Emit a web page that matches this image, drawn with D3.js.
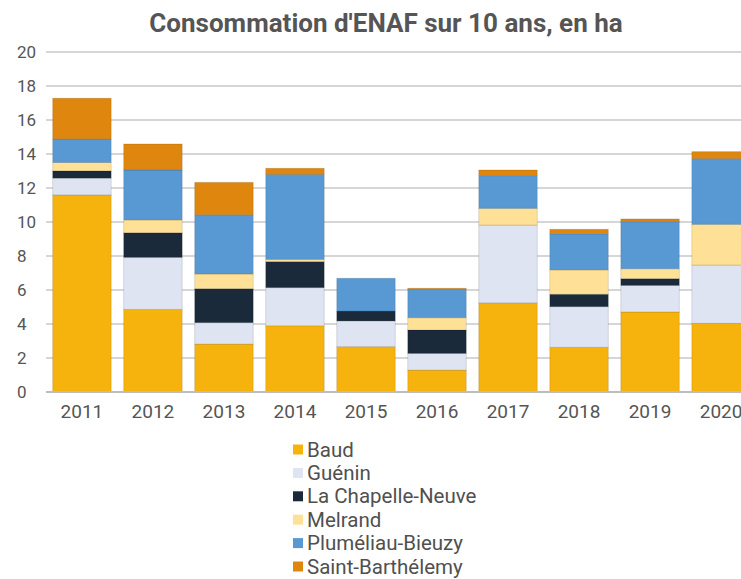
<!DOCTYPE html>
<html>
<head>
<meta charset="utf-8">
<script src="https://cdn.jsdelivr.net/npm/d3@7"></script>
<style>
  html, body { margin: 0; padding: 0; background: #fff; overflow: hidden; }
  svg { display: block; font-family: Roboto, "Noto Sans", sans-serif; }
</style>
</head>
<body>
<svg id="chart" width="741" height="579"></svg>
<script>
// Consommation d'ENAF par commune et par année (ha)
const years = ["2011", "2012", "2013", "2014", "2015", "2016", "2017", "2018", "2019", "2020"];
const communes = ["Baud", "Guénin", "La Chapelle-Neuve", "Melrand", "Pluméliau-Bieuzy", "Saint-Barthélemy"];
const colors = ["#f7b30d", "#dfe4f2", "#1a2a3b", "#fee197", "#5899d4", "#df860e"];

const baud            = [11.60, 4.86, 2.82, 3.90, 2.67, 1.29, 5.25, 2.63, 4.71, 4.04];
const guenin          = [ 0.98, 3.06, 1.26, 2.24, 1.51, 0.98, 4.57, 2.39, 1.56, 3.43];
const laChapelleNeuve = [ 0.43, 1.45, 2.00, 1.53, 0.58, 1.38, 0.00, 0.73, 0.40, 0.00];
const melrand         = [ 0.49, 0.75, 0.86, 0.13, 0.00, 0.72, 0.98, 1.43, 0.58, 2.39];
const plumeliauBieuzy = [ 1.39, 2.94, 3.49, 5.00, 1.93, 1.67, 1.93, 2.13, 2.77, 3.87];
const saintBarthelemy = [ 2.39, 1.53, 1.90, 0.36, 0.00, 0.06, 0.33, 0.26, 0.16, 0.41];

const yTicks = [0, 2, 4, 6, 8, 10, 12, 14, 16, 18, 20];
const title = "Consommation d'ENAF sur 10 ans, en ha";

const seriesValues = [baud, guenin, laChapelleNeuve, melrand, plumeliauBieuzy, saintBarthelemy];
const rows = years.map((y, i) => {
  const r = { year: y };
  communes.forEach((c, k) => { r[c] = seriesValues[k][i]; });
  return r;
});

const svg = d3.select("#chart");
const textColor = "#555";

const x = d3.scaleBand()
  .domain(years)
  .range([46, 757])
  .paddingInner(0.176)
  .paddingOuter(0.094);

const y = d3.scaleLinear().domain([0, 20]).range([392, 52]);

const color = d3.scaleOrdinal().domain(communes).range(colors);

// Title
svg.append("text")
  .attr("x", 386)
  .attr("y", 32)
  .attr("text-anchor", "middle")
  .attr("font-size", 26)
  .attr("font-weight", "bold")
  .attr("fill", "#555")
  .text(title);

// Horizontal gridlines
svg.append("g")
  .selectAll("line")
  .data(yTicks.filter(t => t > 0))
  .join("line")
  .attr("x1", 46).attr("x2", 741)
  .attr("y1", d => y(d)).attr("y2", d => y(d))
  .attr("stroke", "#d6d6d6")
  .attr("stroke-width", 2);

// Y axis labels
svg.append("g")
  .selectAll("text")
  .data(yTicks)
  .join("text")
  .attr("x", 17)
  .attr("y", d => y(d) + 6)
  .attr("font-size", 17)
  .attr("fill", textColor)
  .text(d => d);

// Stacked bars
const stack = d3.stack().keys(communes);
const stacked = stack(rows);

svg.append("g")
  .selectAll("g")
  .data(stacked)
  .join("g")
  .attr("fill", d => color(d.key))
  .selectAll("rect")
  .data(d => d)
  .join("rect")
  .attr("x", d => x(d.data.year))
  .attr("width", x.bandwidth())
  .attr("y", d => y(d[1]))
  .attr("height", d => Math.max(0, y(d[0]) - y(d[1])))
  .attr("stroke", d => (d[1] - d[0]) > 0 ? "rgba(0,0,0,0.12)" : "none")
  .attr("stroke-width", 1);

// Baseline
svg.append("line")
  .attr("x1", 46).attr("x2", 741)
  .attr("y1", y(0)).attr("y2", y(0))
  .attr("stroke", "#bdbdbd")
  .attr("stroke-width", 2);

// X axis labels
svg.append("g")
  .selectAll("text")
  .data(years)
  .join("text")
  .attr("x", d => x(d) + x.bandwidth() / 2)
  .attr("y", 418)
  .attr("text-anchor", "middle")
  .attr("font-size", 19)
  .attr("fill", textColor)
  .text(d => d);

// Legend
const legend = svg.append("g")
  .selectAll("g")
  .data(communes)
  .join("g")
  .attr("transform", (d, i) => `translate(293, ${444.5 + i * 23.4})`);

legend.append("rect")
  .attr("width", 10).attr("height", 10)
  .attr("fill", d => color(d));

legend.append("text")
  .attr("x", 14)
  .attr("y", 12)
  .attr("font-size", 20.5)
  .attr("fill", "#505050")
  .text(d => d);
</script>
</body>
</html>
